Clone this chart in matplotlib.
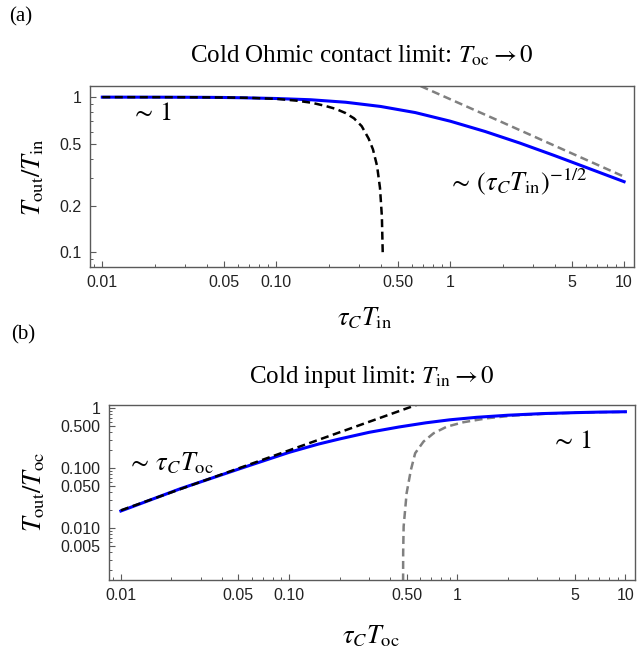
import numpy as np
import matplotlib
matplotlib.use("Agg")
import matplotlib.pyplot as plt
from matplotlib.ticker import FixedLocator, NullFormatter

plt.rcParams['mathtext.fontset'] = 'stix'
plt.rcParams['font.family'] = 'Liberation Serif'

# panel (a): cold Ohmic contact limit
xa_full = [0.01, 0.02, 0.0316, 0.0398, 0.05, 0.063, 0.1, 0.158, 0.251, 0.398, 0.631, 1.0, 1.585, 2.512, 3.98, 6.31, 10.0]
ya_full = [1.0, 0.9995, 0.998, 0.997, 0.995, 0.991, 0.98, 0.962, 0.927, 0.871, 0.795, 0.70, 0.601, 0.506, 0.42, 0.346, 0.285]
xa_small = [0.01, 0.03, 0.05, 0.07, 0.1, 0.13, 0.16, 0.19, 0.22, 0.25, 0.28, 0.31, 0.34, 0.36, 0.38, 0.395, 0.405, 0.41]
ya_small = [1.0, 0.999, 0.995, 0.99, 0.975, 0.95, 0.92, 0.88, 0.84, 0.79, 0.73, 0.65, 0.54, 0.46, 0.36, 0.26, 0.17, 0.094]
xa_large = [0.5, 1.0, 2.0, 5.0, 10.0]
ya_large = [1.37, 0.97, 0.687, 0.434, 0.307]

# panel (b): cold input limit
xb_full = [0.01, 0.0224, 0.051, 0.1, 0.15, 0.2, 0.3, 0.45, 0.65, 0.9, 1.3, 2.0, 3.2, 5.0, 7.0, 10.0]
yb_full = [0.0195, 0.0455, 0.099, 0.185, 0.255, 0.31, 0.40, 0.49, 0.575, 0.645, 0.71, 0.77, 0.82, 0.85, 0.868, 0.88]
xb_small = [0.01, 0.1, 0.6]
yb_small = [0.02, 0.2, 1.2]
xb_large = [0.476, 0.477, 0.48, 0.50, 0.53, 0.562, 0.63, 0.724, 0.868, 1.09, 1.51, 2.16, 3.5, 6.0, 10.0]
yb_large = [0.0005, 0.004, 0.0107, 0.0386, 0.094, 0.179, 0.28, 0.386, 0.497, 0.589, 0.686, 0.76, 0.82, 0.86, 0.875]

xticks = [0.01, 0.05, 0.1, 0.5, 1, 5, 10]
xticklabels = ["0.01", "0.05", "0.10", "0.50", "1", "5", "10"]
ya_ticks = [0.1, 0.2, 0.5, 1]
ya_ticklabels = ["0.1", "0.2", "0.5", "1"]
yb_ticks = [0.005, 0.01, 0.05, 0.1, 0.5, 1]
yb_ticklabels = ["0.005", "0.010", "0.050", "0.100", "0.500", "1"]

W, H = 644, 648
fig = plt.figure(figsize=(W / 100, H / 100), dpi=100)

def box(l, t, r, b):
    return [l / W, 1 - b / H, (r - l) / W, (b - t) / H]

def fpos(x, y):
    return x / W, 1 - y / H

axa = fig.add_axes(box(90, 86, 634, 267))
axb = fig.add_axes(box(109, 405, 635, 580))

def minors(lo, hi):
    out = []
    for e in range(lo, hi):
        for s in range(1, 10):
            out.append(s * 10.0 ** e)
    return out

def style(ax, yt, ytl, ylim):
    ax.set_xscale('log')
    ax.set_yscale('log')
    ax.set_xlim(0.0085, 11.4)
    ax.set_ylim(*ylim)
    ax.xaxis.set_major_locator(FixedLocator(xticks))
    ax.set_xticklabels(xticklabels)
    ax.xaxis.set_minor_locator(FixedLocator(minors(-3, 2)))
    ax.xaxis.set_minor_formatter(NullFormatter())
    ax.yaxis.set_major_locator(FixedLocator(yt))
    ax.set_yticklabels(ytl)
    ax.yaxis.set_minor_locator(FixedLocator(minors(-4, 1)))
    ax.yaxis.set_minor_formatter(NullFormatter())
    for sp in ax.spines.values():
        sp.set_color('#5a5a5a')
        sp.set_linewidth(1.0)
    ax.tick_params(which='both', direction='in', color='#5a5a5a', top=False, right=False)
    ax.tick_params(which='major', length=4.5, width=0.8, pad=6)
    ax.tick_params(which='minor', length=2.2, width=0.7)
    for lab in ax.get_xticklabels() + ax.get_yticklabels():
        lab.set_fontfamily('Liberation Sans')
        lab.set_fontsize(11.5)
        lab.set_color('#222222')

dash = (3.2, 1.8)

axa.plot(xa_large, ya_large, color=(0.5, 0.5, 0.5), lw=1.8, dashes=dash)
axa.plot(xa_full, ya_full, color=(0, 0, 1), lw=2.2)
axa.plot(xa_small, ya_small, color='black', lw=1.8, dashes=dash)
style(axa, ya_ticks, ya_ticklabels, (0.0803, 1.18))
axa.text(0.0146, 0.71, r"$\sim\,1$", fontsize=19, va='baseline')
axa.text(0.97, 0.25, r"$\sim\,(\tau_C T_{\rm in})^{-1/2}$", fontsize=19, va='baseline')

axb.plot(xb_large, yb_large, color=(0.5, 0.5, 0.5), lw=1.8, dashes=dash)
axb.plot(xb_full, yb_full, color=(0, 0, 1), lw=2.2)
axb.plot(xb_small, yb_small, color='black', lw=1.8, dashes=dash)
style(axb, yb_ticks, yb_ticklabels, (0.00138, 1.14))
axb.text(0.0109, 0.094, r"$\sim\,\tau_C T_{\rm oc}$", fontsize=19, va='baseline')
axb.text(3.59, 0.217, r"$\sim\,1$", fontsize=19, va='baseline')

# titles, panel letters, axis labels
fig.text(*fpos(21, 17), "(a)", fontsize=15, ha='center', va='center')
fig.text(*fpos(23, 335), "(b)", fontsize=15, ha='center', va='center')
fig.text(*fpos(362, 56), r"Cold Ohmic contact limit: $T_{\rm oc} \rightarrow 0$", fontsize=18, ha='center', va='center')
fig.text(*fpos(372, 377), r"Cold input limit: $T_{\rm in} \rightarrow 0$", fontsize=18, ha='center', va='center')
fig.text(*fpos(365, 318), r"$\tau_C T_{\rm in}$", fontsize=19, ha='center', va='center')
fig.text(*fpos(371, 636), r"$\tau_C T_{\rm oc}$", fontsize=19, ha='center', va='center')
fig.text(*fpos(33, 177), r"$T_{\rm out}/T_{\rm in}$", fontsize=19, ha='center', va='center', rotation=90)
fig.text(*fpos(34, 492), r"$T_{\rm out}/T_{\rm oc}$", fontsize=19, ha='center', va='center', rotation=90)

fig.savefig("out.png", dpi=100)
